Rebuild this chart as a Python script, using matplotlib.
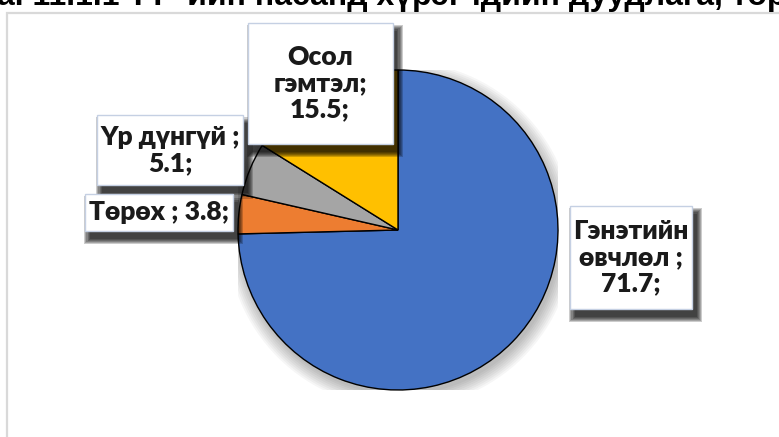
import matplotlib
matplotlib.use("Agg")
import matplotlib.pyplot as plt
from matplotlib.patches import Rectangle, Circle

# өгөгдөл (зурагнаас уншсан)
categories = ["Гэнэтийн өвчлөл", "Төрөх", "Үр дүнгүй", "Осол гэмтэл"]
values = [71.7, 3.8, 5.1, 15.5]
colors = ["#4472C4", "#ED7D31", "#A5A5A5", "#FFC000"]
label_texts = ["Гэнэтийн\nөвчлөл ;\n71.7;", "Төрөх ; 3.8;", "Үр дүнгүй ;\n5.1;", "Осол\nгэмтэл;\n15.5;"]

W, H = 779, 437
fig = plt.figure(figsize=(W / 100, H / 100), dpi=100)

# гарчиг (дээд хэсэг нь тасарсан)
fig.text(-0.004, (H - 5) / H, "а. 11.1.1 ТТ -ийн насанд хүрэгчдийн дуудлага, төрлөөр",
         fontsize=23, fontweight="bold", family=["Liberation Sans", "DejaVu Sans"],
         va="baseline", ha="left")

# хүрээ
fig.patches.append(Rectangle((7 / W, -0.1), 1.2, (H - 13) / H + 0.1, transform=fig.transFigure,
                             fill=False, edgecolor="#d9d9d9", linewidth=1.6))

cx, cy, r = 398, 230, 160
ax = fig.add_axes([(cx - r) / W, (H - cy - r) / H, 2 * r / W, 2 * r / H])
ax.set_xlim(-1, 1)
ax.set_ylim(-1, 1)
ax.axis("off")

# бөөрөнхий сүүдэр
for i in range(8):
    ax.add_patch(Circle((0.015, -0.03), 1.0 + 0.012 * i, color="black", alpha=0.035,
                        zorder=0, lw=0))

wedges, _ = ax.pie(values, colors=colors, startangle=90, counterclock=False, radius=1,
                   wedgeprops=dict(edgecolor="black", linewidth=1.0))
for w in wedges:
    w.set_zorder(2)
ax.set_xlim(-1, 1)
ax.set_ylim(-1, 1)

# шошгоны хайрцаг: төв (px), өргөн, өндөр
boxes = [(631, 257, 122, 103), (159, 212, 148, 37), (170, 150, 146, 70), (320, 83, 145, 121)]
font = ["Lato", "Noto Sans", "DejaVu Sans"]

for (bx, by, bw, bh), txt in zip(boxes, label_texts):
    x0 = (bx - bw / 2 - cx) / r
    y0 = (cy - (by + bh / 2)) / r
    ww, hh = bw / r, bh / r
    # сүүдэр
    for k in range(6):
        d = k * 0.007
        ax.add_patch(Rectangle((x0 + 0.03 - d, y0 - 0.05 - d), ww + 2 * d, hh + 2 * d,
                               facecolor="black", edgecolor="none", alpha=0.2,
                               zorder=3, clip_on=False))
    ax.add_patch(Rectangle((x0, y0), ww, hh, facecolor="white", edgecolor="#c5d0e3",
                           linewidth=1.0, zorder=4, clip_on=False))
    ax.text(x0 + ww / 2, y0 + hh / 2, txt, ha="center", va="center", fontsize=19,
            fontweight="heavy", family=font, color="#1a1a1a", linespacing=1.12,
            zorder=5, clip_on=False)

fig.savefig("out.png", dpi=100)
